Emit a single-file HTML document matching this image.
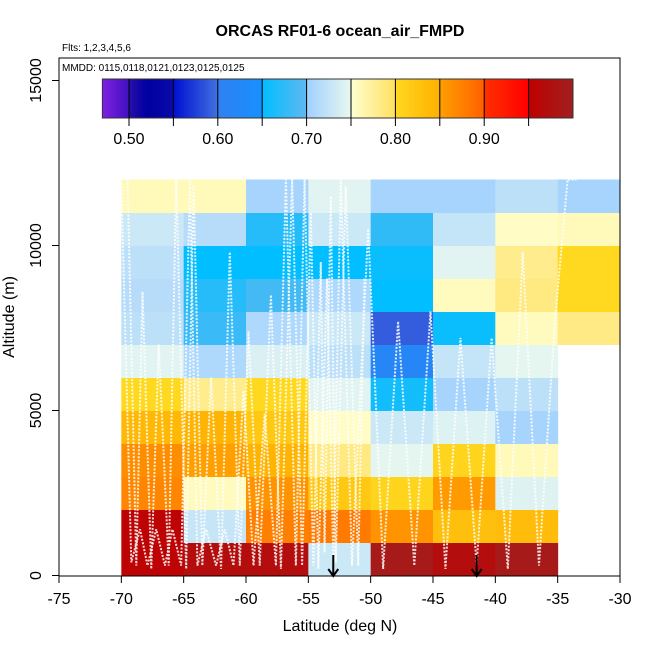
<!DOCTYPE html>
<html><head><meta charset="utf-8"><style>
body{margin:0;background:#fff}
svg text{font-family:"Liberation Sans",sans-serif}
</style></head><body>
<svg id="chart" width="650" height="650" viewBox="0 0 650 650" xmlns="http://www.w3.org/2000/svg">
<g id="cells"></g>
<g id="tracks"></g>
<g id="arrows"></g>
<rect x="59" y="58" width="561" height="518" fill="none" stroke="#000" stroke-width="1"/>
<g id="axes"></g>
<g id="cbar"></g>
<text x="340" y="36" text-anchor="middle" font-size="16" font-weight="bold">ORCAS RF01-6 ocean_air_FMPD</text>
<text x="62" y="51" font-size="10">Flts: 1,2,3,4,5,6</text>
<text x="62" y="71" font-size="10">MMDD: 0115,0118,0121,0123,0125,0125</text>
<text x="340" y="631" text-anchor="middle" font-size="16">Latitude (deg N)</text>
<text transform="translate(14,317) rotate(-90)" text-anchor="middle" font-size="16">Altitude (m)</text>
</svg>
<script>
const latEdges=[-70,-65,-60,-55,-50,-45,-40,-35,-30];
const altEdges=[0,1000,2000,3000,4000,5000,6000,7000,8000,9000,10000,11000,12000];
// rows bottom (0-1km) to top (11-12km); null = no data
const values=[
[0.955,0.97,0.97,0.73,0.99,0.97,0.99,null],
[0.955,0.726,0.875,0.88,0.86,0.83,0.835,null],
[0.87,0.758,0.86,0.82,0.805,0.855,0.743,null],
[0.865,0.85,0.845,0.785,0.748,0.805,0.76,null],
[0.84,0.845,0.82,0.755,0.73,0.742,0.705,null],
[0.80,0.78,0.80,0.745,0.66,0.705,0.72,null],
[0.745,0.71,0.74,0.72,0.62,0.725,0.748,null],
[0.72,0.68,0.71,0.73,0.59,0.655,0.758,0.783],
[0.715,0.67,0.685,0.71,0.65,0.758,0.785,0.80],
[0.72,0.65,0.65,0.65,0.655,0.745,0.78,0.80],
[0.73,0.715,0.67,0.73,0.675,0.725,0.755,0.76],
[0.76,0.76,0.705,0.745,0.705,0.705,0.72,0.705]
];
const xTicks=[-75,-70,-65,-60,-55,-50,-45,-40,-35,-30];
const yTicks=[0,5000,10000,15000];
const cbTicks=[0.50,0.60,0.70,0.80,0.90];
const arrowLats=[-53,-41.5];
// simplified flight tracks [lat, alt]
const trackLat=[-69.5,-68.8,-68.3,-67.6,-67,-66.2,-65.6,-64.8,-64.2,-63.5,-62.8,-62,-61.3,-60.5,-59.8,-58.9,-58,-57.2,-56.3,-55.5,-54.8,-54.2,-53.5,-53,-52.4,-51.5,-50.2,-49,-47.8,-46.5,-45.2,-44,-42.8,-41.5,-40.3,-39,-37.8,-36.5,-35.2,-34.2,-33.5];
const trackAlt=[12000,300,8600,200,7000,300,12000,200,11800,300,6000,200,9800,300,7400,300,8500,200,12000,300,11000,200,9000,500,12000,300,10500,200,7700,300,8000,200,7200,300,7200,200,9800,300,7800,12000,12000];
const track2Lat=[-70,-69.2,-68.5,-67.9,-67.2,-66.5,-65.9,-65.2,-64.5,-63.9,-63.2,-62.4,-61.7,-61,-60.2,-59.4,-58.5,-57.6,-56.8,-56,-55.3,-54.6,-54,-53.7,-53.2,-52.8,-52,-51,-50.5];
const track2Alt=[11900,400,1400,300,1400,300,1400,300,12000,300,1400,300,1400,300,5600,300,4900,300,12000,300,12000,300,9500,700,11500,400,11800,300,9000];
const X=l=>59+(l+75)*561/45;
const Y=a=>575.5-a*0.0330;
const stops=[[0.47,[128,32,224]],[0.4999,[64,16,192]],[0.50,[40,16,170]],[0.52,[0,0,160]],[0.5499,[10,10,170]],[0.55,[0,16,208]],[0.5999,[64,112,224]],[0.60,[48,128,240]],[0.6499,[24,144,255]],[0.65,[0,190,255]],[0.6999,[96,184,240]],[0.70,[160,208,255]],[0.7499,[232,248,240]],[0.75,[255,255,208]],[0.7999,[255,224,96]],[0.80,[255,216,32]],[0.8499,[255,176,0]],[0.85,[255,160,0]],[0.8999,[255,96,0]],[0.90,[255,48,0]],[0.9499,[255,0,0]],[0.95,[192,0,0]],[1.0,[160,32,32]]];
function col(v){
 if(v<=stops[0][0])return 'rgb('+stops[0][1]+')';
 for(let i=1;i<stops.length;i++){if(v<=stops[i][0]){const a=stops[i-1],b=stops[i];const t=(v-a[0])/(b[0]-a[0]);return 'rgb('+a[1].map((c,k)=>Math.round(c+(b[1][k]-c)*t)).join(',')+')';}}
 return 'rgb('+stops[stops.length-1][1]+')';
}
const NS='http://www.w3.org/2000/svg';
function mk(t,attrs,parent){const e=document.createElementNS(NS,t);for(const k in attrs)e.setAttribute(k,attrs[k]);parent.appendChild(e);return e;}
const cells=document.getElementById('cells');
values.forEach((row,r)=>row.forEach((v,c)=>{if(v==null)return;
 const x0=X(latEdges[c]),x1=X(latEdges[c+1]),y1=Y(altEdges[r]),y0=Y(altEdges[r+1]);
 const e=mk('rect',{x:x0,y:y0,width:x1-x0+0.5,height:y1-y0+0.5,fill:col(v)},cells);
 
 
}));
const tr=document.getElementById('tracks');
const pl=mk('polyline',{points:trackLat.map((l,i)=>X(l)+','+Y(trackAlt[i])).join(' '),fill:'none',stroke:'#fff','stroke-width':2,'stroke-dasharray':'2,1.5',opacity:0.85},tr);


const pl2=mk('polyline',{points:track2Lat.map((l,i)=>X(l)+','+Y(track2Alt[i])).join(' '),fill:'none',stroke:'#fff','stroke-width':2,'stroke-dasharray':'2,1.5',opacity:0.85},tr);


const ar=document.getElementById('arrows');
arrowLats.forEach(l=>{const x=X(l);
 const g=mk('path',{d:`M${x},555 L${x},576 M${x-5},569 L${x},576 L${x+5},569`,stroke:'#000','stroke-width':2,fill:'none'},ar);
 
 
});
const ax=document.getElementById('axes');
xTicks.forEach(t=>{const x=X(t);
 mk('line',{x1:x,x2:x,y1:576,y2:583,stroke:'#000'},ax);
 const e=mk('text',{x:x,y:604,'text-anchor':'middle','font-size':16},ax);e.textContent=t;
 
 
});
yTicks.forEach(t=>{const y=Y(t);
 mk('line',{x1:52,x2:59,y1:y,y2:y,stroke:'#000'},ax);
 const e=mk('text',{transform:`translate(41,${y}) rotate(-90)`,'text-anchor':'middle','font-size':16},ax);e.textContent=t;
 
 
});
const cb=document.getElementById('cbar');
const CX=v=>129+(v-0.5)*888;
for(let v=0.47;v<0.999;v+=0.002){mk('rect',{x:CX(v),y:79,width:2.2,height:39,fill:col(v+0.001)},cb);}
mk('rect',{x:CX(0.47),y:79,width:CX(1.0)-CX(0.47),height:39,fill:'none',stroke:'#333'},cb);
for(let k=0;k<10;k++){const x=CX(0.5+k*0.05);
 mk('line',{x1:x,x2:x,y1:79,y2:126,stroke:'#000','stroke-width':1},cb);}
cbTicks.forEach(t=>{const e=mk('text',{x:CX(t),y:144,'text-anchor':'middle','font-size':16},cb);e.textContent=t.toFixed(2);
 
 
});
</script>
</body></html>
